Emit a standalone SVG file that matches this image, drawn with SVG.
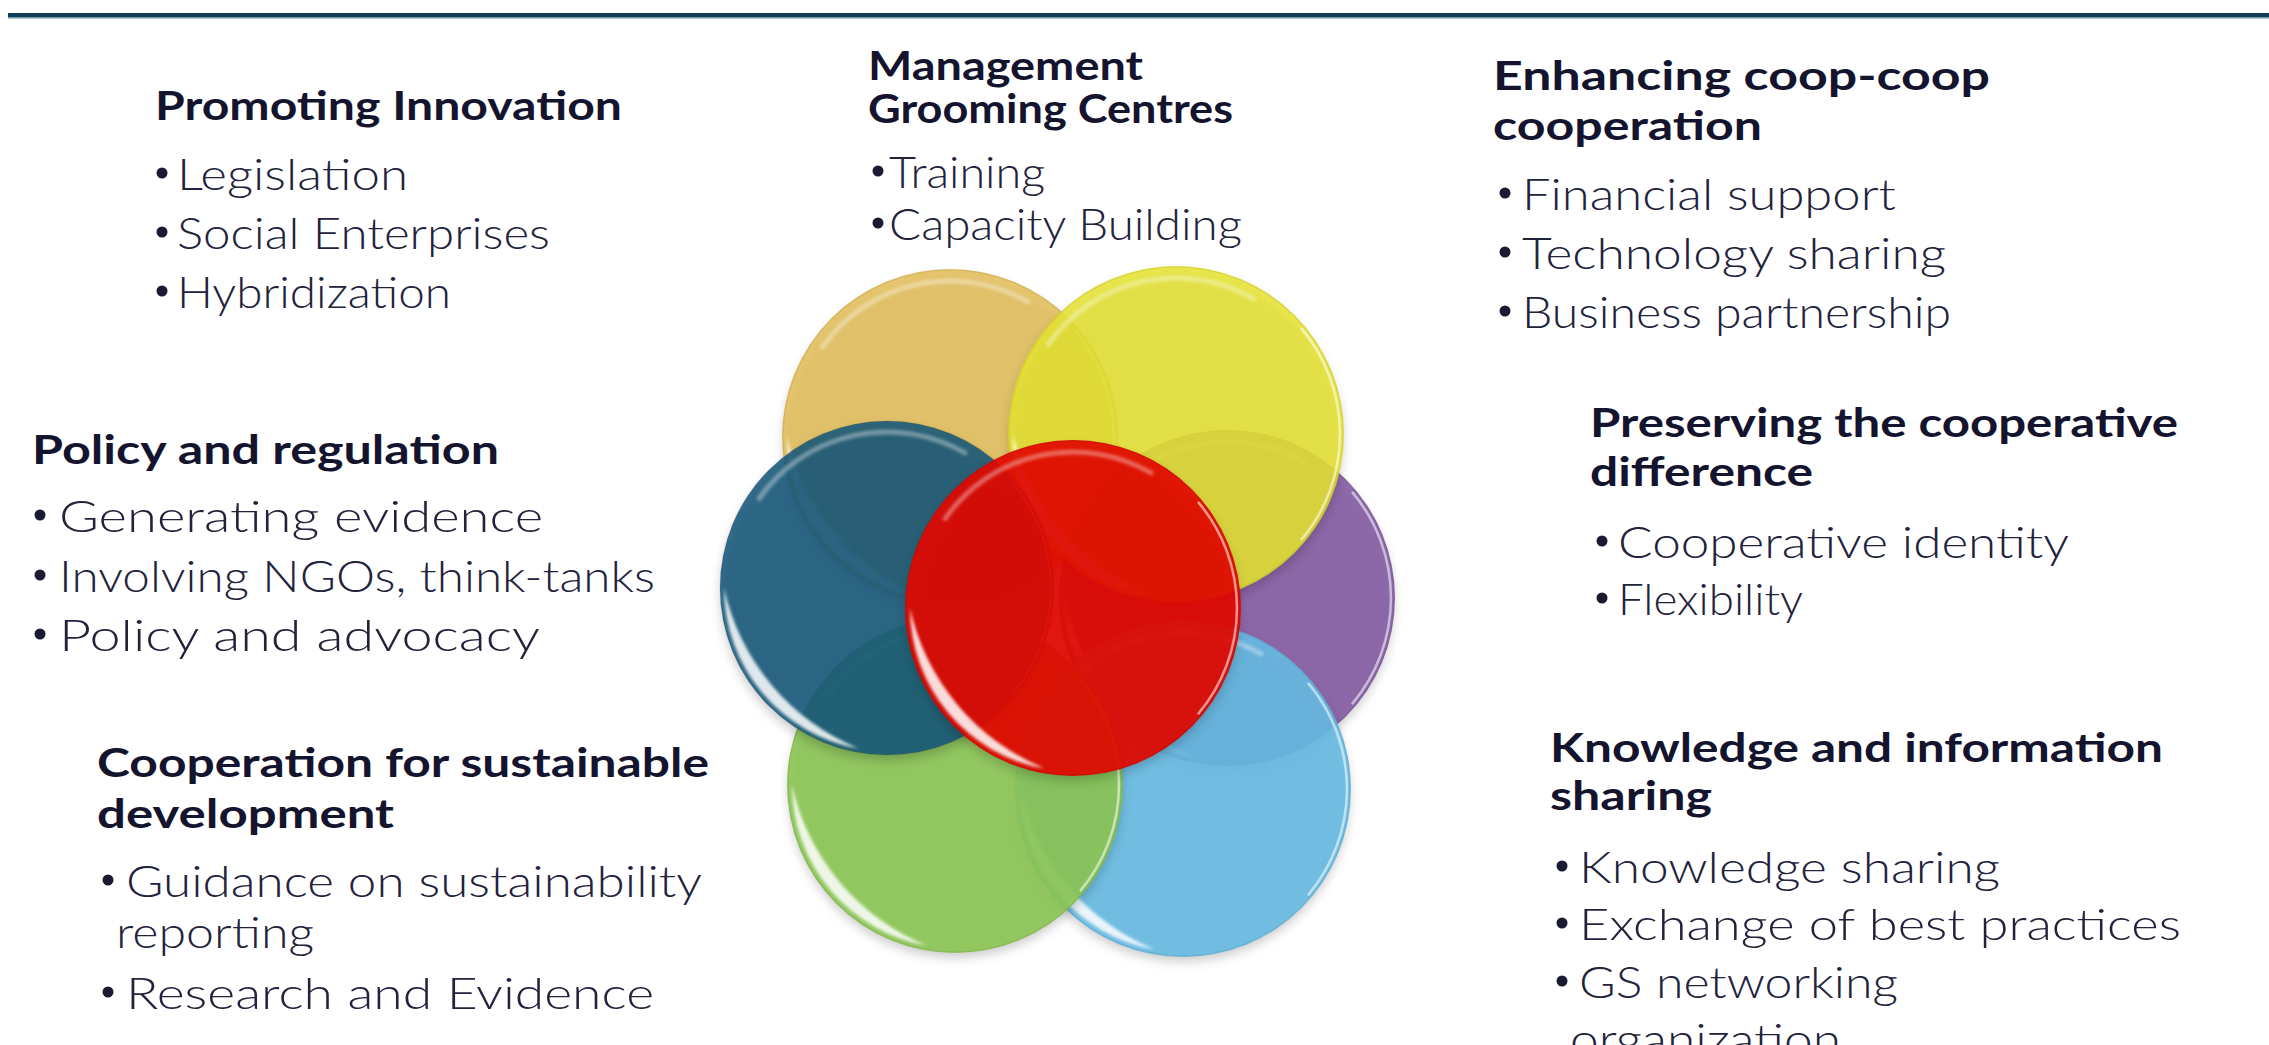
<svg xmlns="http://www.w3.org/2000/svg" xmlns:xlink="http://www.w3.org/1999/xlink" width="2269" height="1045" viewBox="0 0 2269 1045">
  <style>
    .head { font-family: "Lato", "Liberation Sans", sans-serif; font-weight: 700; font-size: 40px; fill: #14142e; }
    .item { font-family: "Lato", "Liberation Sans", sans-serif; font-weight: 300; font-size: 44px; fill: #22223c; }
    .dot  { fill: #1a1a32; }
    .petal { stroke: none; }
  </style>
  <defs>
    <filter id="soft" x="-20%" y="-20%" width="140%" height="140%">
      <feGaussianBlur stdDeviation="1.6"/>
    </filter>
    <filter id="shade" x="-20%" y="-20%" width="140%" height="140%">
      <feGaussianBlur stdDeviation="6"/>
    </filter>
    <!-- soft shadow under each disc -->
    <circle id="shadow" r="166" fill="#000" opacity="0.22" filter="url(#shade)"/>
    <!-- glassy highlights shared by all discs, centred on the origin -->
    <g id="gloss">
      <path d="M -28.3 160.5 A 163 163 0 0 1 -163 0 A 225 225 0 0 0 -28.3 160.5 Z" fill="#ffffff" opacity="0.85" filter="url(#soft)"/>
      <path d="M -127.8 -89.5 A 156 156 0 0 1 78 -135.1" fill="none" stroke="#ffffff" stroke-opacity="0.35" stroke-width="5" stroke-linecap="round" filter="url(#soft)"/>
      <path d="M 125.6 -105.4 A 164 164 0 0 1 125.6 105.4" fill="none" stroke="#ffffff" stroke-opacity="0.55" stroke-width="2.5" stroke-linecap="round"/>
      <circle r="167" fill="none" stroke="#000" stroke-opacity="0.08" stroke-width="1.2"/>
    </g>
  </defs>

  <rect width="2269" height="1045" fill="#ffffff"/>

  <!-- title rule -->
  <rect x="8" y="13" width="2261" height="4.5" fill="#0f3d57"/>
  <rect x="8" y="17.5" width="2261" height="1" fill="#6a93a8"/>

  <!-- overlapping discs -->
  <g id="disc-orange">
    <use xlink:href="#shadow" x="950" y="443"/>
    <circle class="petal" cx="950" cy="437" r="168" fill="#e2bf5e" fill-opacity="0.9"/>
    <use xlink:href="#gloss" x="950" y="437"/>
  </g>
  <g id="disc-purple">
    <use xlink:href="#shadow" x="1227" y="604"/>
    <circle class="petal" cx="1227" cy="598" r="168" fill="#855ca3" fill-opacity="0.9"/>
    <use xlink:href="#gloss" x="1227" y="598"/>
  </g>
  <g id="disc-blue">
    <use xlink:href="#shadow" x="1183" y="795"/>
    <circle class="petal" cx="1183" cy="789" r="168" fill="#66bbe3" fill-opacity="0.9"/>
    <use xlink:href="#gloss" x="1183" y="789"/>
  </g>
  <g id="disc-green">
    <use xlink:href="#shadow" x="955" y="791"/>
    <circle class="petal" cx="955" cy="785" r="168" fill="#8cc654" fill-opacity="0.9"/>
    <use xlink:href="#gloss" x="955" y="785"/>
  </g>
  <g id="disc-yellow">
    <use xlink:href="#shadow" x="1176" y="440"/>
    <circle class="petal" cx="1176" cy="434" r="168" fill="#e5e333" fill-opacity="0.88"/>
    <use xlink:href="#gloss" x="1176" y="434"/>
  </g>
  <g id="disc-teal">
    <use xlink:href="#shadow" x="887" y="594"/>
    <circle class="petal" cx="887" cy="588" r="167" fill="#16587a" fill-opacity="0.88"/>
    <use xlink:href="#gloss" x="887" y="588"/>
  </g>
  <g id="disc-red">
    <use xlink:href="#shadow" x="1073" y="614"/>
    <circle class="petal" cx="1073" cy="608" r="168" fill="#e30800" fill-opacity="0.92"/>
    <use xlink:href="#gloss" x="1073" y="608"/>
  </g>

  <!-- text blocks -->
  <g id="promoting-innovation">
    <text class="head" x="155" y="120" textLength="467" lengthAdjust="spacingAndGlyphs">Promoting Innovation</text>
    <circle class="dot" cx="162" cy="173" r="5.5"/>
    <text class="item" x="177" y="190" textLength="231" lengthAdjust="spacingAndGlyphs">Legislation</text>
    <circle class="dot" cx="162" cy="232" r="5.5"/>
    <text class="item" x="177" y="249" textLength="373" lengthAdjust="spacingAndGlyphs">Social Enterprises</text>
    <circle class="dot" cx="162" cy="291" r="5.5"/>
    <text class="item" x="177" y="308" textLength="274" lengthAdjust="spacingAndGlyphs">Hybridization</text>
  </g>

  <g id="policy-regulation">
    <text class="head" x="32" y="464" textLength="467" lengthAdjust="spacingAndGlyphs">Policy and regulation</text>
    <circle class="dot" cx="40" cy="515" r="5.5"/>
    <text class="item" x="59" y="532" textLength="484" lengthAdjust="spacingAndGlyphs">Generating evidence</text>
    <circle class="dot" cx="40" cy="575" r="5.5"/>
    <text class="item" x="59" y="592" textLength="596" lengthAdjust="spacingAndGlyphs">Involving NGOs, think-tanks</text>
    <circle class="dot" cx="40" cy="634" r="5.5"/>
    <text class="item" x="59" y="651" textLength="481" lengthAdjust="spacingAndGlyphs">Policy and advocacy</text>
  </g>

  <g id="sustainable-development">
    <text class="head" x="97" y="777" textLength="612" lengthAdjust="spacingAndGlyphs">Cooperation for sustainable</text>
    <text class="head" x="97" y="828" textLength="297" lengthAdjust="spacingAndGlyphs">development</text>
    <circle class="dot" cx="108" cy="880" r="5.5"/>
    <text class="item" x="126" y="897" textLength="576" lengthAdjust="spacingAndGlyphs">Guidance on sustainability</text>
    <text class="item" x="116" y="948" textLength="198" lengthAdjust="spacingAndGlyphs">reporting</text>
    <circle class="dot" cx="108" cy="992" r="5.5"/>
    <text class="item" x="126" y="1009" textLength="528" lengthAdjust="spacingAndGlyphs">Research and Evidence</text>
  </g>

  <g id="management-grooming">
    <text class="head" x="868" y="80" textLength="275" lengthAdjust="spacingAndGlyphs">Management</text>
    <text class="head" x="868" y="123" textLength="365" lengthAdjust="spacingAndGlyphs">Grooming Centres</text>
    <circle class="dot" cx="878" cy="171" r="5.5"/>
    <text class="item" x="889" y="188" textLength="156" lengthAdjust="spacingAndGlyphs">Training</text>
    <circle class="dot" cx="878" cy="223" r="5.5"/>
    <text class="item" x="889" y="240" textLength="353" lengthAdjust="spacingAndGlyphs">Capacity Building</text>
  </g>

  <g id="coop-coop">
    <text class="head" x="1493" y="90" textLength="497" lengthAdjust="spacingAndGlyphs">Enhancing coop-coop</text>
    <text class="head" x="1493" y="140" textLength="269" lengthAdjust="spacingAndGlyphs">cooperation</text>
    <circle class="dot" cx="1505" cy="193" r="5.5"/>
    <text class="item" x="1522" y="210" textLength="374" lengthAdjust="spacingAndGlyphs">Financial support</text>
    <circle class="dot" cx="1505" cy="252" r="5.5"/>
    <text class="item" x="1522" y="269" textLength="424" lengthAdjust="spacingAndGlyphs">Technology sharing</text>
    <circle class="dot" cx="1505" cy="311" r="5.5"/>
    <text class="item" x="1522" y="328" textLength="429" lengthAdjust="spacingAndGlyphs">Business partnership</text>
  </g>

  <g id="cooperative-difference">
    <text class="head" x="1590" y="437" textLength="588" lengthAdjust="spacingAndGlyphs">Preserving the cooperative</text>
    <text class="head" x="1590" y="486" textLength="223" lengthAdjust="spacingAndGlyphs">difference</text>
    <circle class="dot" cx="1602" cy="541" r="5.5"/>
    <text class="item" x="1618" y="558" textLength="451" lengthAdjust="spacingAndGlyphs">Cooperative identity</text>
    <circle class="dot" cx="1602" cy="598" r="5.5"/>
    <text class="item" x="1618" y="615" textLength="185" lengthAdjust="spacingAndGlyphs">Flexibility</text>
  </g>

  <g id="knowledge-sharing">
    <text class="head" x="1550" y="762" textLength="613" lengthAdjust="spacingAndGlyphs">Knowledge and information</text>
    <text class="head" x="1550" y="810" textLength="162" lengthAdjust="spacingAndGlyphs">sharing</text>
    <circle class="dot" cx="1562" cy="866" r="5.5"/>
    <text class="item" x="1579" y="883" textLength="421" lengthAdjust="spacingAndGlyphs">Knowledge sharing</text>
    <circle class="dot" cx="1562" cy="923" r="5.5"/>
    <text class="item" x="1579" y="940" textLength="602" lengthAdjust="spacingAndGlyphs">Exchange of best practices</text>
    <circle class="dot" cx="1562" cy="981" r="5.5"/>
    <text class="item" x="1579" y="998" textLength="319" lengthAdjust="spacingAndGlyphs">GS networking</text>
    <text class="item" x="1570" y="1055" textLength="271" lengthAdjust="spacingAndGlyphs">organization</text>
  </g>
</svg>
